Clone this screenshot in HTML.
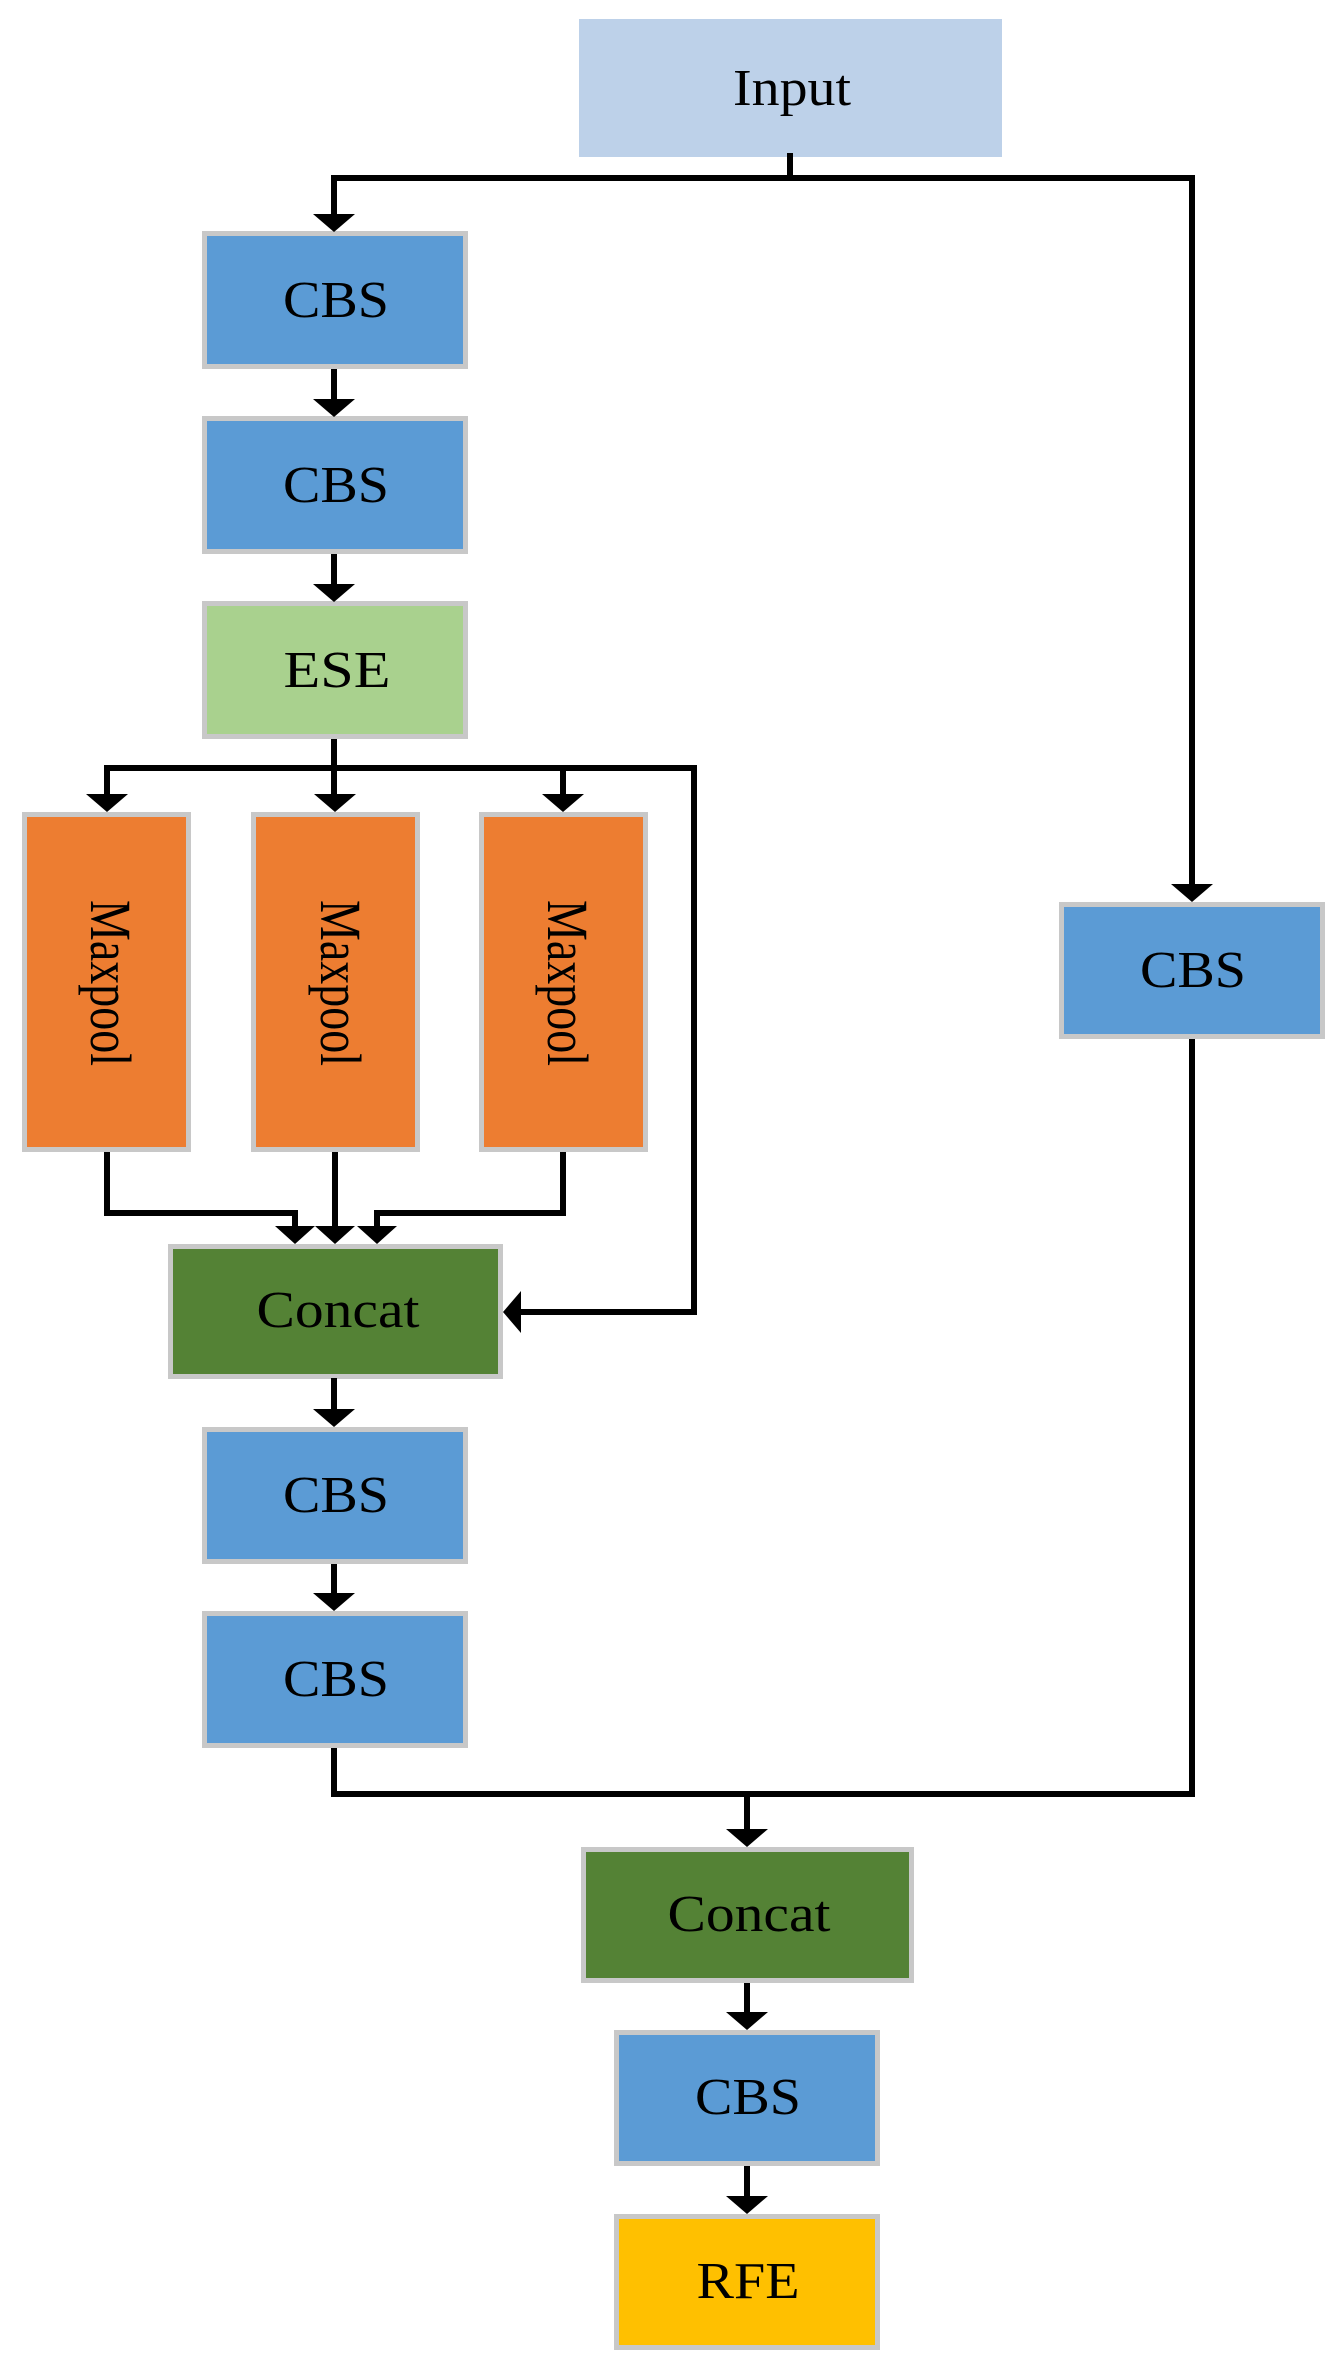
<!DOCTYPE html>
<html><head><meta charset="utf-8"><style>
html,body{margin:0;padding:0;background:#fff}
svg{display:block}
text{font-family:"Liberation Serif",serif;font-size:52px;fill:#000;text-anchor:middle}
</style></head><body>
<svg width="1338" height="2365" viewBox="0 0 1338 2365" xmlns="http://www.w3.org/2000/svg">
<g stroke="#c8c8c8" stroke-width="5">
<rect x="579" y="19" width="423" height="138" fill="#bdd1e9" stroke="none"/>
<rect x="204.5" y="233.5" width="261" height="133" fill="#5b9bd5"/>
<rect x="204.5" y="418.5" width="261" height="133" fill="#5b9bd5"/>
<rect x="204.5" y="603.5" width="261" height="133" fill="#a9d18e"/>
<rect x="24.5" y="814.5" width="164" height="335" fill="#ed7d31"/>
<rect x="253.5" y="814.5" width="164" height="335" fill="#ed7d31"/>
<rect x="481.5" y="814.5" width="164" height="335" fill="#ed7d31"/>
<rect x="1061.5" y="904.5" width="261" height="132" fill="#5b9bd5"/>
<rect x="170.5" y="1246.5" width="330" height="130" fill="#548235"/>
<rect x="204.5" y="1429.5" width="261" height="132" fill="#5b9bd5"/>
<rect x="204.5" y="1613.5" width="261" height="132" fill="#5b9bd5"/>
<rect x="583.5" y="1849.5" width="328" height="131" fill="#548235"/>
<rect x="616.5" y="2032.5" width="261" height="131" fill="#5b9bd5"/>
<rect x="616.5" y="2216.5" width="261" height="131" fill="#ffc000"/>
</g>
<g fill="none" stroke="#000" stroke-width="6" stroke-linejoin="miter">
<polyline points="790,153 790,178"/>
<polyline points="334,216 334,178 1192,178 1192,886"/>
<line x1="334" y1="369" x2="334" y2="401"/>
<line x1="334" y1="554" x2="334" y2="586"/>
<line x1="334" y1="739" x2="334" y2="795"/>
<polyline points="107,795 107,768 694,768 694,1312 520,1312"/>
<line x1="563" y1="768" x2="563" y2="795"/>
<polyline points="107,1152 107,1213 295,1213 295,1228"/>
<line x1="335" y1="1152" x2="335" y2="1228"/>
<polyline points="563,1152 563,1213 377,1213 377,1228"/>
<line x1="334" y1="1378" x2="334" y2="1410"/>
<line x1="334" y1="1564" x2="334" y2="1594"/>
<polyline points="334,1748 334,1794 1192,1794 1192,1039"/>
<line x1="747" y1="1794" x2="747" y2="1830"/>
<line x1="747" y1="1983" x2="747" y2="2013"/>
<line x1="747" y1="2166" x2="747" y2="2197"/>
</g>
<g fill="#000">
<polygon points="313,214 355,214 334,232"/>
<polygon points="313,399 355,399 334,417"/>
<polygon points="313,584 355,584 334,602"/>
<polygon points="86,794 128,794 107,812"/>
<polygon points="314,794 356,794 335,812"/>
<polygon points="542,794 584,794 563,812"/>
<polygon points="1171,884 1213,884 1192,902"/>
<polygon points="275,1226 315,1226 295,1244"/>
<polygon points="315,1226 355,1226 335,1244"/>
<polygon points="357,1226 397,1226 377,1244"/>
<polygon points="521,1291 521,1333 503,1312"/>
<polygon points="313,1409 355,1409 334,1427"/>
<polygon points="313,1593 355,1593 334,1611"/>
<polygon points="726,1829 768,1829 747,1847"/>
<polygon points="726,2012 768,2012 747,2030"/>
<polygon points="726,2196 768,2196 747,2214"/>
</g>
<text x="792" y="105" textLength="118" lengthAdjust="spacingAndGlyphs">Input</text>
<text x="336" y="317" textLength="106" lengthAdjust="spacingAndGlyphs">CBS</text>
<text x="336" y="502" textLength="106" lengthAdjust="spacingAndGlyphs">CBS</text>
<text x="337" y="687" textLength="107" lengthAdjust="spacingAndGlyphs">ESE</text>
<text x="1193" y="987" textLength="106" lengthAdjust="spacingAndGlyphs">CBS</text>
<text x="338" y="1327" textLength="163" lengthAdjust="spacingAndGlyphs">Concat</text>
<text x="336" y="1512" textLength="106" lengthAdjust="spacingAndGlyphs">CBS</text>
<text x="336" y="1696" textLength="106" lengthAdjust="spacingAndGlyphs">CBS</text>
<text x="749" y="1931" textLength="163" lengthAdjust="spacingAndGlyphs">Concat</text>
<text x="748" y="2114" textLength="106" lengthAdjust="spacingAndGlyphs">CBS</text>
<text x="748" y="2298" textLength="103" lengthAdjust="spacingAndGlyphs">RFE</text>
<text transform="translate(91,983) rotate(90)" x="0" y="0" style="font-size:58px" textLength="166" lengthAdjust="spacingAndGlyphs">Maxpool</text>
<text transform="translate(321,983) rotate(90)" x="0" y="0" style="font-size:58px" textLength="166" lengthAdjust="spacingAndGlyphs">Maxpool</text>
<text transform="translate(548,983) rotate(90)" x="0" y="0" style="font-size:58px" textLength="166" lengthAdjust="spacingAndGlyphs">Maxpool</text>
</svg>
</body></html>
